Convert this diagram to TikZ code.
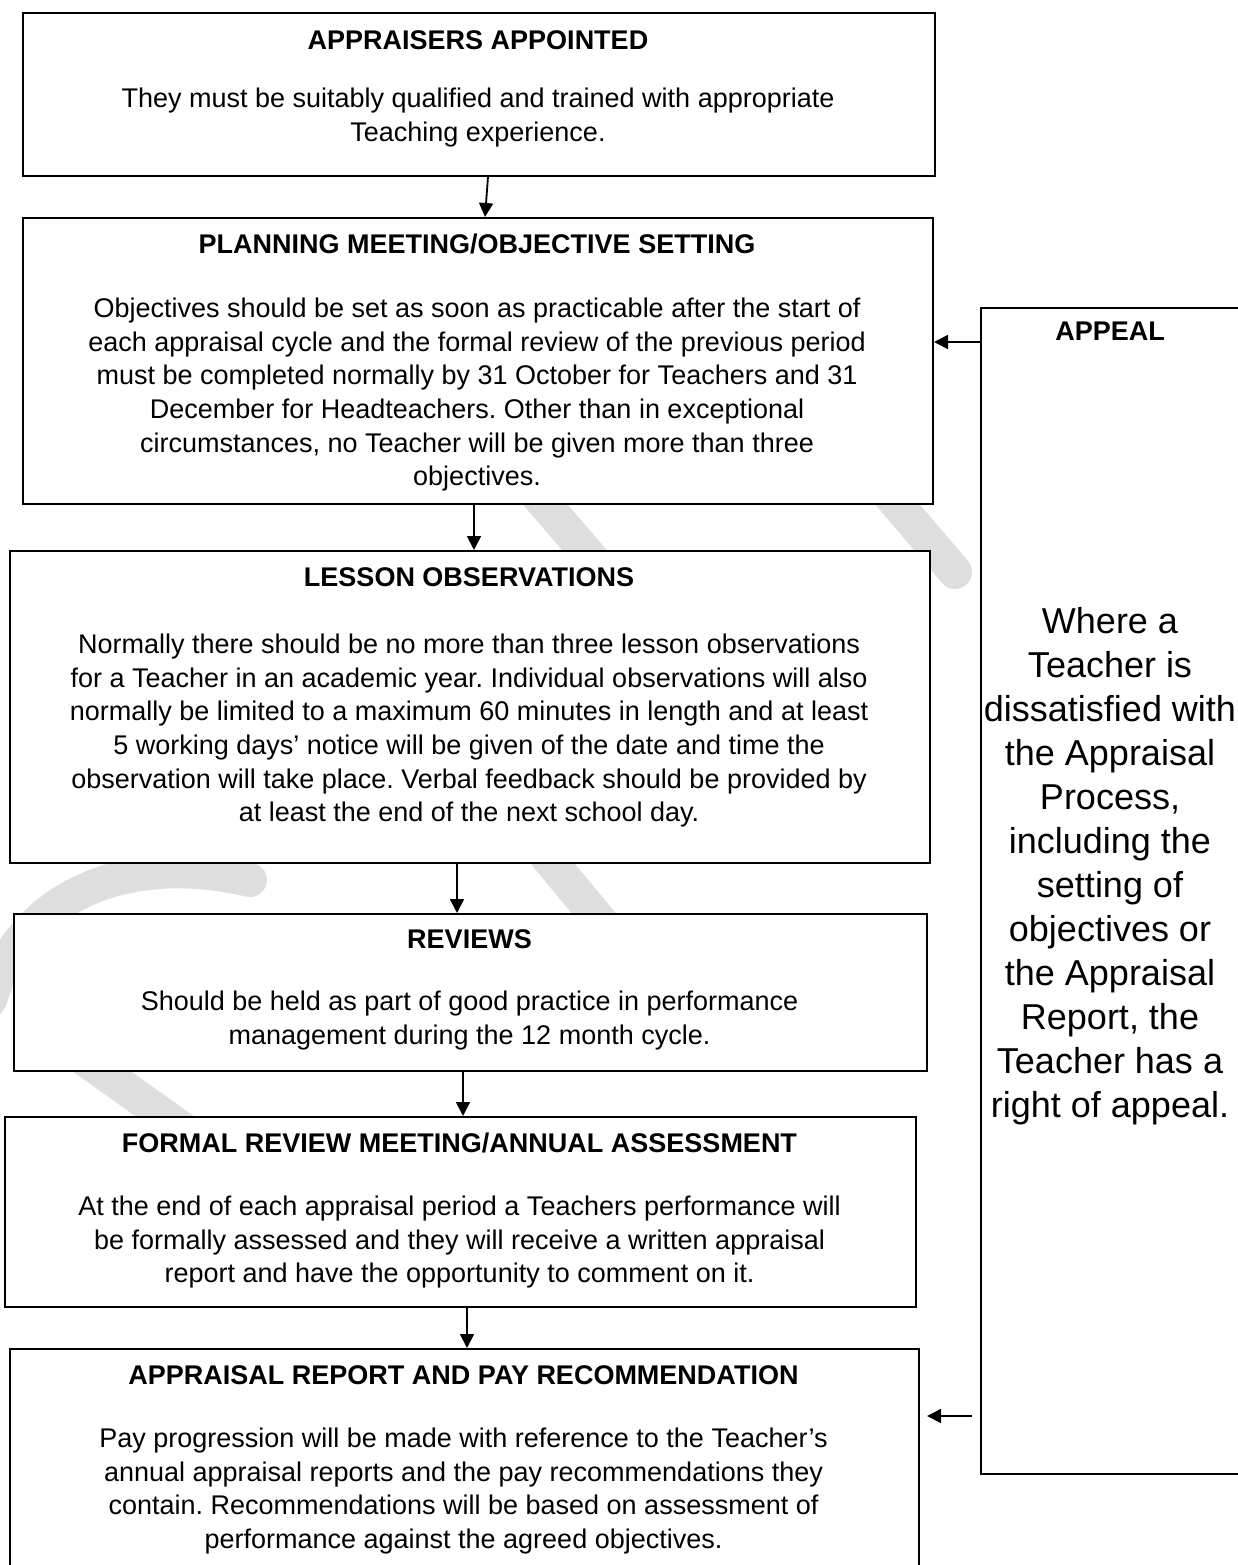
\documentclass[tikz,border=0pt]{standalone}
\usepackage{fontspec}
\setmainfont{Liberation Sans}
\usetikzlibrary{arrows.meta}
\frenchspacing
\tikzset{
  box/.style={draw=black, line width=2pt, fill=white, rectangle, inner sep=0pt, anchor=north west},
  head/.style={font={\fontsize{27}{33.6}\selectfont\bfseries}, anchor=base, inner sep=0pt},
  body/.style={font={\fontsize{27}{33.6}\selectfont}, align=center, anchor=north, inner sep=0pt},
  abody/.style={font={\fontsize{36}{44}\selectfont}, align=center, anchor=north, inner sep=0pt},
  arr/.style={line width=1.8pt, -{Triangle[length=14pt,width=14pt]}},
  wmark/.style={draw=black!13, line width=34pt, line cap=round}
}
\begin{document}
\begin{tikzpicture}[x=1pt,y=-1pt]
\useasboundingbox (0,0) rectangle (1237,1565);
% faint watermark strokes (mostly hidden behind the boxes)
\draw[wmark] (490,440) -- (640,615);
\draw[wmark] (800,390) -- (955,572);
\draw[wmark] (500,800) -- (620,945);
\draw[wmark] (-10,1000) .. controls (20,900) and (120,850) .. (250,880);
\draw[wmark] (30,1020) -- (240,1170);
% boxes
\node[box, minimum width=912pt, minimum height=163pt] (b1) at (22,12) {};
\node[box, minimum width=910pt, minimum height=286pt] (b2) at (22,217) {};
\node[box, minimum width=920pt, minimum height=312pt] (b3) at (9,550) {};
\node[box, minimum width=913pt, minimum height=157pt] (b4) at (13,913) {};
\node[box, minimum width=911pt, minimum height=190pt] (b5) at (4,1116) {};
\node[box, minimum width=909pt, minimum height=240pt] (b6) at (9,1348) {};
\node[box, minimum width=270pt, minimum height=1166pt] (bA) at (980,307) {};
% headings
\node[head] (h1) at (478,49.7) {APPRAISERS APPOINTED};
\node[head] (h2) at (477,253.7) {PLANNING MEETING/OBJECTIVE SETTING};
\node[head] (h3) at (469,586.7) {LESSON OBSERVATIONS};
\node[head] (h4) at (469.5,948.7) {REVIEWS};
\node[head] (h5) at (459.5,1152.7) {FORMAL REVIEW MEETING/ANNUAL ASSESSMENT};
\node[head] (h6) at (463.5,1384.7) {APPRAISAL REPORT AND PAY RECOMMENDATION};
\node[head] (hA) at (1110,340.7) {APPEAL};
% bodies
\node[body] (t1) at (478,88) {They must be suitably qualified and trained with appropriate\\Teaching experience.};
\node[body] (t2) at (477,298) {Objectives should be set as soon as practicable after the start of\\each appraisal cycle and the formal review of the previous period\\must be completed normally by 31 October for Teachers and 31\\December for Headteachers. Other than in exceptional\\circumstances, no Teacher will be given more than three\\objectives.};
\node[body] (t3) at (469,634) {Normally there should be no more than three lesson observations\\for a Teacher in an academic year. Individual observations will also\\normally be limited to a maximum 60 minutes in length and at least\\5 working days’ notice will be given of the date and time the\\observation will take place. Verbal feedback should be provided by\\at least the end of the next school day.};
\node[body] (t4) at (469.5,991) {Should be held as part of good practice in performance\\management during the 12 month cycle.};
\node[body] (t5) at (459.5,1196) {At the end of each appraisal period a Teachers performance will\\be formally assessed and they will receive a written appraisal\\report and have the opportunity to comment on it.};
\node[body] (t6) at (463.5,1428) {Pay progression will be made with reference to the Teacher’s\\annual appraisal reports and the pay recommendations they\\contain. Recommendations will be based on assessment of\\performance against the agreed objectives.};
\node[abody] (tA) at (1110,607) {Where a\\Teacher is\\dissatisfied with\\the Appraisal\\Process,\\including the\\setting of\\objectives or\\the Appraisal\\Report, the\\Teacher has a\\right of appeal.};
% connectors
\draw[arr] ([xshift=9pt]b1.south) -- ([xshift=7pt]b2.north);
\draw[arr] ([xshift=-4pt]b2.south) -- ([xshift=4pt]b3.north);
\draw[arr] ([xshift=-13pt]b3.south) -- ([xshift=-13.5pt]b4.north);
\draw[arr] ([xshift=-7.5pt]b4.south) -- ([xshift=2.5pt]b5.north);
\draw[arr] ([xshift=6.5pt]b5.south) -- ([xshift=2.5pt]b6.north);
\draw[arr] ([yshift=549pt]bA.west) -- ([yshift=19pt]b2.east);
\draw[arr] ([xshift=-8pt,yshift=-525pt]bA.west) -- ([xshift=7pt,yshift=53pt]b6.east);
\end{tikzpicture}
\end{document}
